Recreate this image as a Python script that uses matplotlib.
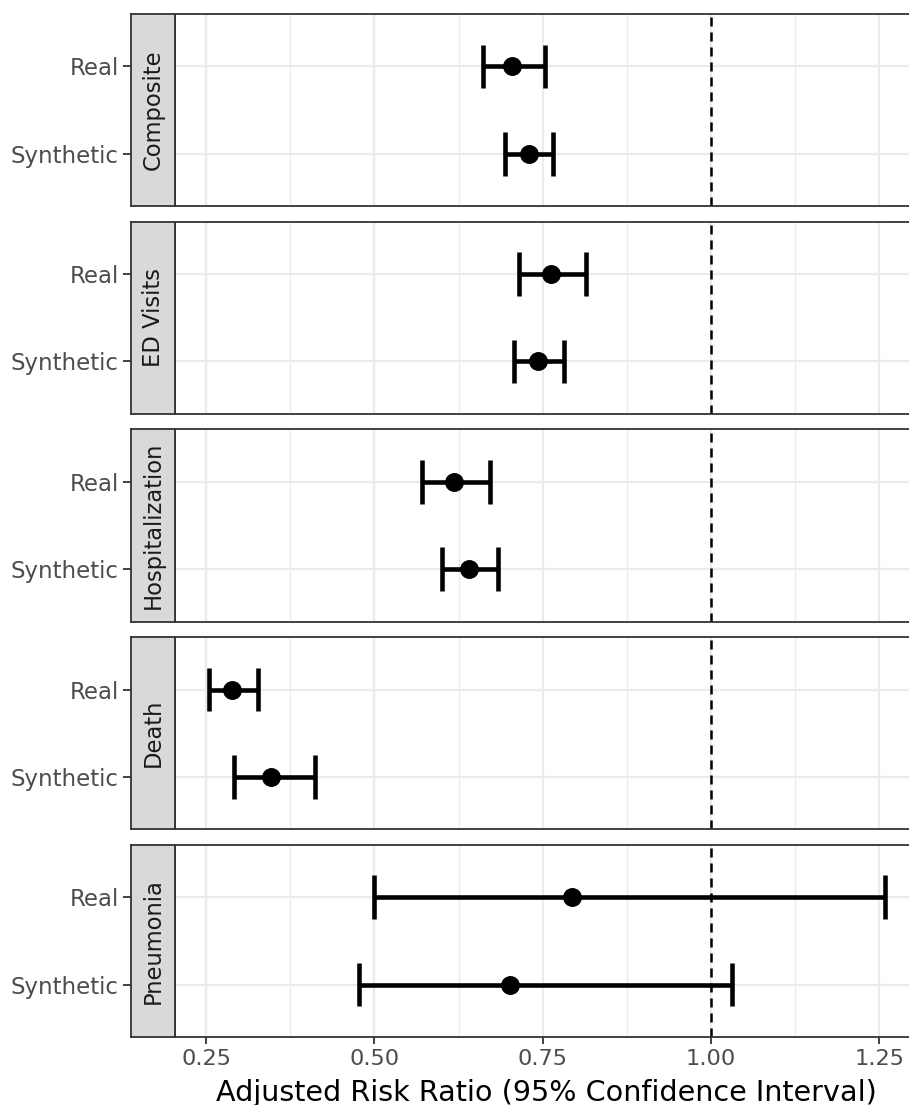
import matplotlib
matplotlib.use("Agg")
import matplotlib.pyplot as plt

# ---------------- data ----------------
outcomes = ["Composite", "ED Visits", "Hospitalization", "Death", "Pneumonia"]
sources = ["Real", "Synthetic"]
est_real = [0.705, 0.763, 0.618, 0.288, 0.793]
lo_real = [0.661, 0.715, 0.571, 0.254, 0.499]
hi_real = [0.753, 0.814, 0.671, 0.327, 1.258]
est_syn = [0.729, 0.743, 0.640, 0.346, 0.701]
lo_syn = [0.694, 0.708, 0.600, 0.291, 0.477]
hi_syn = [0.765, 0.781, 0.683, 0.412, 1.031]
x_ticks = [0.25, 0.50, 0.75, 1.00, 1.25]
x_tick_labels = ["0.25", "0.50", "0.75", "1.00", "1.25"]
x_minor = [0.375, 0.625, 0.875, 1.125]
ref_line = 1.0
xlabel = "Adjusted Risk Ratio (95% Confidence Interval)"

# ---------------- layout ----------------
W, H = 909, 1105
plt.rcParams["font.family"] = ["DejaVu Sans"]
plt.rcParams["lines.scale_dashes"] = False
fig = plt.figure(figsize=(W / 100, H / 100), dpi=100)

panel_left, panel_right, strip_left = 175, 918.5, 131
top, bottom, gap = 14, 1037, 15.6
ph = (bottom - top - 4 * gap) / 5

all_lo = min(lo_real + lo_syn)
all_hi = max(hi_real + hi_syn)
rng = all_hi - all_lo
xlim = (all_lo - 0.05 * rng, all_hi + 0.05 * rng)

border = "#333333"
grid_c = "#EBEBEB"
lw_bar = 3.3
cap_half = 0.25

for i, name in enumerate(outcomes):
    ytop = top + i * (ph + gap)
    rect_y = 1 - (ytop + ph) / H
    ax = fig.add_axes([panel_left / W, rect_y, (panel_right - panel_left) / W, ph / H])
    st = fig.add_axes([strip_left / W, rect_y, (panel_left - strip_left) / W, ph / H], sharey=ax)

    ax.set_xlim(*xlim)
    ax.set_ylim(2.6, 0.4)
    ax.set_xticks(x_ticks)
    ax.set_xticks(x_minor, minor=True)
    ax.set_yticks([1, 2])
    ax.set_axisbelow(True)
    ax.grid(which="major", color=grid_c, lw=1.6)
    ax.grid(which="minor", axis="x", color=grid_c, lw=0.9)
    ax.tick_params(axis="y", which="both", length=0, labelleft=False)
    ax.tick_params(axis="x", which="minor", length=0)
    for sp in ax.spines.values():
        sp.set_color(border)
        sp.set_linewidth(1.3)

    if i == len(outcomes) - 1:
        ax.set_xticklabels(x_tick_labels)
        ax.tick_params(axis="x", which="major", length=5.3, width=1.3, color=border,
                       labelcolor="#4D4D4D", labelsize=16.2, pad=3.0)
    else:
        ax.tick_params(axis="x", which="major", length=0, labelbottom=False)

    ax.axvline(ref_line, color="black", lw=1.8, linestyle=(0, (6.5, 4.3)), zorder=2)

    ys = [1, 2]
    ests = [est_real[i], est_syn[i]]
    los = [lo_real[i], lo_syn[i]]
    his = [hi_real[i], hi_syn[i]]
    for y, e, lo, hi in zip(ys, ests, los, his):
        ax.hlines(y, lo, hi, color="black", lw=lw_bar, capstyle="butt", zorder=3)
        ax.vlines([lo, hi], y - cap_half, y + cap_half, color="black", lw=lw_bar,
                  capstyle="butt", zorder=3)
        ax.plot([e], [y], "o", color="black", ms=12.6, zorder=4)

    # strip
    st.set_facecolor("#D9D9D9")
    st.set_xticks([])
    st.set_yticks(ys)
    st.set_yticklabels(sources)
    st.tick_params(axis="y", length=5.5, width=1.3, color=border, labelcolor="#4D4D4D",
                   labelsize=16.5, pad=3.5)
    for sp in st.spines.values():
        sp.set_color(border)
        sp.set_linewidth(1.3)
    st.text(0.5, 0.5, name, rotation=90, ha="center", va="center", transform=st.transAxes,
            fontsize=16.3, color="#1A1A1A")

fig.text(((panel_left + panel_right) / 2) / W, (H - 1101) / H, xlabel, ha="center",
         va="baseline", fontsize=20.6, color="black")

fig.savefig("out.png", dpi=100)
